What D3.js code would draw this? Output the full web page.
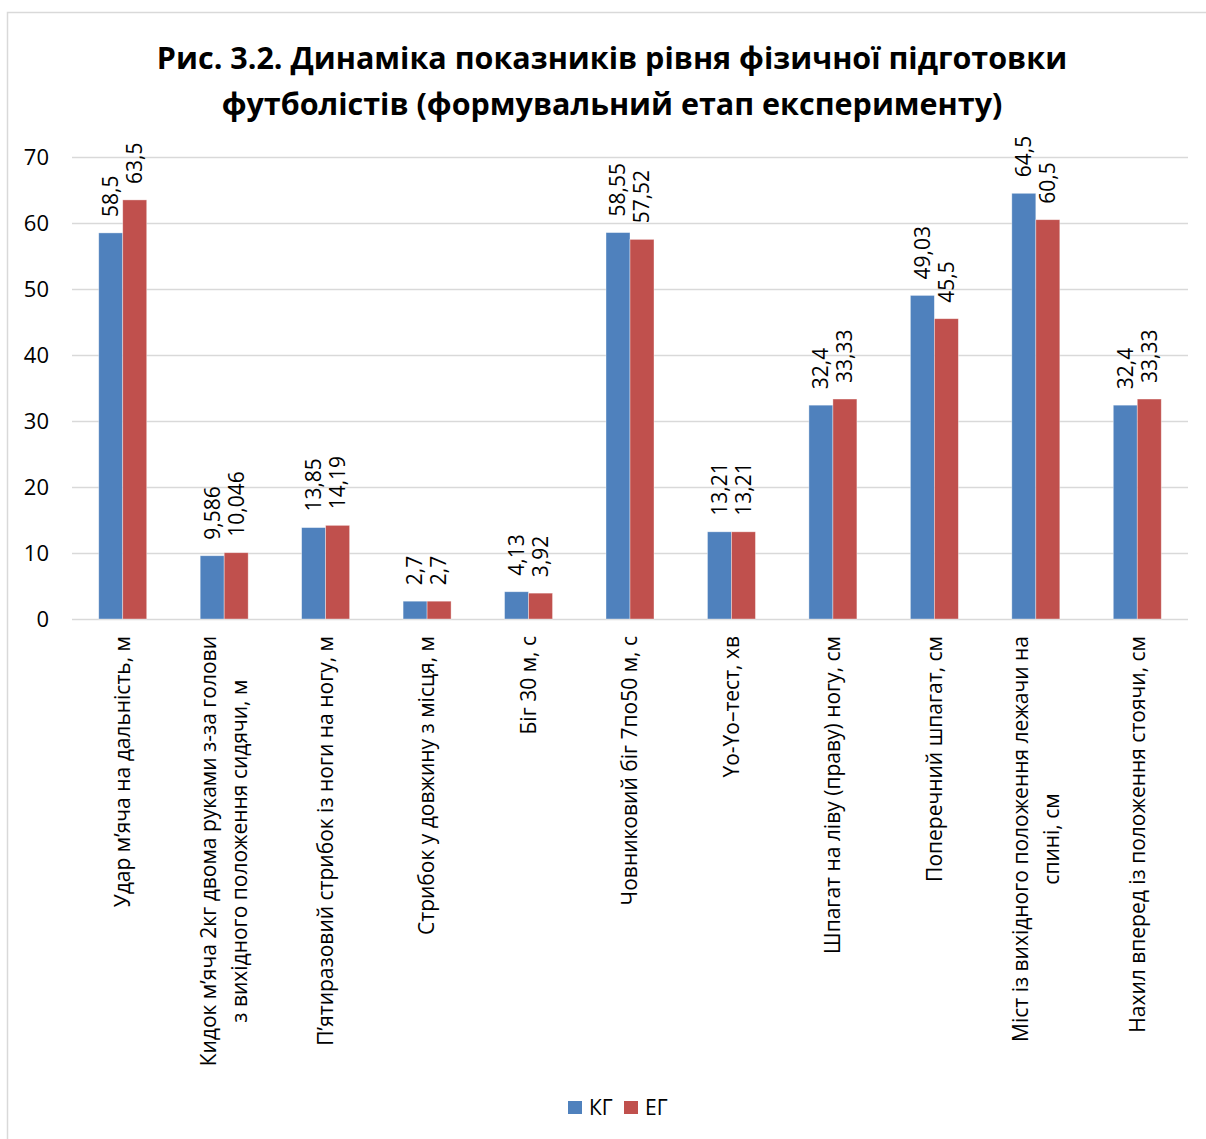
<!DOCTYPE html>
<html>
<head>
<meta charset="utf-8">
<script src="https://cdn.jsdelivr.net/npm/d3@7"></script>
<style>
  body { margin: 0; background: #fff; }
  svg { display: block; font-family: "Open Sans", sans-serif; }
</style>
</head>
<body>
<div id="chart"></div>
<script>
var categories = [
    ['Удар м’яча на дальність, м'],
    ['Кидок м’яча 2кг двома руками з-за голови', 'з вихідного положення сидячи, м'],
    ['П’ятиразовий стрибок із ноги на ногу, м'],
    ['Стрибок у довжину з місця, м'],
    ['Біг 30 м, с'],
    ['Човниковий біг 7по50 м, с'],
    ['Yo-Yo–тест, хв'],
    ['Шпагат на ліву (праву) ногу, см'],
    ['Поперечний шпагат, см'],
    ['Міст із вихідного положення лежачи на', 'спині, см'],
    ['Нахил вперед із положення стоячи, см']
];
var seriesNames = ['КГ', 'ЕГ'];
var kgValues = [58.5, 9.586, 13.85, 2.7, 4.13, 58.55, 13.21, 32.4, 49.03, 64.5, 32.4];
var egValues = [63.5, 10.046, 14.19, 2.7, 3.92, 57.52, 13.21, 33.33, 45.5, 60.5, 33.33];
var yTicks = [0, 10, 20, 30, 40, 50, 60, 70];
var titleLines = ['Рис. 3.2. Динаміка показників рівня фізичної підготовки',
                  'футболістів (формувальний етап експерименту)'];
var colors = ['#4F81BD', '#C0504D'];

var width = 1206, height = 1139;
var plot = {left: 72, right: 1188, top: 157, bottom: 619};

var svg = d3.select('#chart').append('svg')
    .attr('width', width)
    .attr('height', height);

// chart border
svg.append('rect')
    .attr('x', 7.5).attr('y', 12.5)
    .attr('width', 1210).attr('height', 1140)
    .attr('fill', '#fff')
    .attr('stroke', '#d9d9d9')
    .attr('stroke-width', 1.5);

// title
svg.append('g').selectAll('text')
    .data(titleLines)
    .enter().append('text')
    .attr('x', 612)
    .attr('y', (d, i) => 69 + i * 46)
    .attr('text-anchor', 'middle')
    .attr('font-size', 30.5)
    .attr('font-weight', 'bold')
    .attr('fill', '#000')
    .text(d => d);

var x = d3.scaleBand()
    .domain(d3.range(categories.length))
    .range([plot.left, plot.right])
    .paddingInner(0.527)
    .paddingOuter(0.2635);

var xSub = d3.scaleBand()
    .domain(seriesNames)
    .range([0, x.bandwidth()]);

var y = d3.scaleLinear().domain([0, 70]).range([plot.bottom, plot.top]);

// grid + y axis
var yAxis = d3.axisLeft(y)
    .tickValues(yTicks)
    .tickSize(-(plot.right - plot.left))
    .tickPadding(23);

var gy = svg.append('g')
    .attr('transform', 'translate(' + plot.left + ',0)')
    .call(yAxis);
gy.select('.domain').remove();
gy.selectAll('.tick line').attr('stroke', '#d9d9d9').attr('stroke-width', 1.5);
gy.selectAll('.tick text')
    .attr('font-size', 22)
    .attr('font-family', '"Open Sans", sans-serif')
    .attr('fill', '#000');

// bars
var rows = categories.map((c, i) => ({i: i, values: [kgValues[i], egValues[i]]}));

var groups = svg.append('g').selectAll('g')
    .data(rows)
    .enter().append('g')
    .attr('transform', d => 'translate(' + x(d.i) + ',0)');

groups.selectAll('rect')
    .data(d => d.values.map((v, k) => ({name: seriesNames[k], value: v, k: k})))
    .enter().append('rect')
    .attr('x', d => xSub(d.name))
    .attr('y', d => y(d.value))
    .attr('width', xSub.bandwidth())
    .attr('height', d => y(0) - y(d.value))
    .attr('fill', d => colors[d.k])
    .attr('stroke', '#fff')
    .attr('stroke-opacity', 0.5)
    .attr('stroke-width', 0.75);

// value labels
groups.selectAll('text')
    .data(d => d.values.map((v, k) => ({name: seriesNames[k], value: v, k: k})))
    .enter().append('text')
    .attr('transform', d => 'translate(' + (xSub(d.name) + xSub.bandwidth() / 2) + ',' + (y(d.value) - 16) + ') rotate(-90)')
    .attr('dy', '0.35em')
    .attr('font-size', 21)
    .attr('fill', '#000')
    .text(d => String(d.value).replace('.', ','));

// category labels
var labelTop = 636;
var lineGap = 31;
categories.forEach(function(lines, i) {
    var cx = x(i) + x.bandwidth() / 2;
    var g = svg.append('g');
    var texts = g.selectAll('text')
        .data(lines)
        .enter().append('text')
        .attr('font-size', 21)
        .attr('fill', '#000')
        .attr('text-anchor', 'middle')
        .text(d => d);
    var maxLen = d3.max(texts.nodes(), n => n.getComputedTextLength());
    var cy = labelTop + maxLen / 2;
    var n = lines.length;
    texts.attr('transform', (d, k) => 'translate(' + (cx + (k - (n - 1) / 2) * lineGap) + ',' + cy + ') rotate(-90)')
        .attr('dy', '0.35em');
});

// legend
var legendX = [568, 624];
var legend = svg.append('g').selectAll('g')
    .data(seriesNames)
    .enter().append('g')
    .attr('transform', (d, i) => 'translate(' + legendX[i] + ',1101)');
legend.append('rect')
    .attr('width', 14).attr('height', 13)
    .attr('fill', (d, i) => colors[i]);
legend.append('text')
    .attr('x', 21).attr('y', 14)
    .attr('font-size', 21)
    .attr('fill', '#000')
    .text(d => d);
</script>
</body>
</html>
